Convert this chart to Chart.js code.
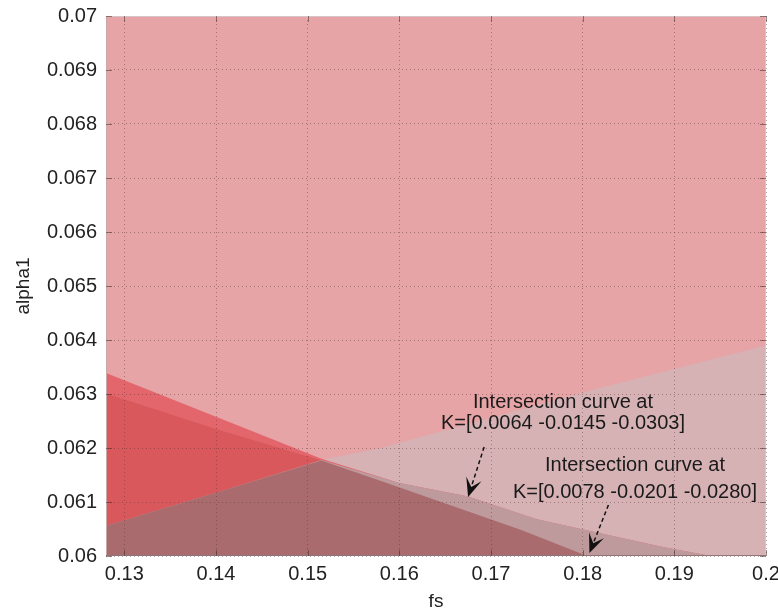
<!DOCTYPE html>
<html>
<head>
<meta charset="utf-8">
<script src="https://cdn.jsdelivr.net/npm/chart.js@4/dist/chart.umd.min.js"></script>
<style>
  html, body { margin: 0; padding: 0; background: #ffffff; }
  #wrap { width: 778px; height: 613px; position: relative; }
</style>
</head>
<body>
<div id="wrap"><canvas id="c" width="778" height="613"></canvas></div>
<script>
// ---- data ----
const xTicks = [0.13, 0.14, 0.15, 0.16, 0.17, 0.18, 0.19, 0.2];
const xTickLabels = ['0.13', '0.14', '0.15', '0.16', '0.17', '0.18', '0.19', '0.2'];
const yTicks = [0.06, 0.061, 0.062, 0.063, 0.064, 0.065, 0.066, 0.067, 0.068, 0.069, 0.07];
const yTickLabels = ['0.06', '0.061', '0.062', '0.063', '0.064', '0.065', '0.066', '0.067', '0.068', '0.069', '0.07'];

// rising surface edge
const fsRise = [0.128, 0.14, 0.1515, 0.158, 0.18, 0.2];
const alphaRise = [0.06056, 0.06117, 0.06178, 0.06200, 0.06303, 0.0639];

// intersection curve K=[0.0064 -0.0145 -0.0303]
const fsK1 = [0.128, 0.14, 0.1515, 0.160, 0.1675, 0.175, 0.1886, 0.194];
const alphaK1 = [0.06339, 0.06258, 0.06180, 0.06135, 0.06110, 0.06068, 0.06017, 0.0600];

// intersection curve K=[0.0078 -0.0201 -0.0280]
const fsK2 = [0.128, 0.14, 0.1515, 0.158, 0.1733, 0.1805];
const alphaK2 = [0.06301, 0.06235, 0.06177, 0.06139, 0.06048, 0.0600];

// upper edge of overlap of rising surface with K1 surface
const fsBand = [0.128, 0.14, 0.1515, 0.160, 0.1675, 0.175, 0.1886, 0.194];
const alphaBand = [0.06056, 0.06117, 0.06178, 0.06135, 0.06110, 0.06068, 0.06017, 0.0600];

// upper edge of overlap of rising surface with K2 surface
const fsOverlap = [0.128, 0.14, 0.1515, 0.158, 0.1733, 0.1805];
const alphaOverlap = [0.06056, 0.06117, 0.06177, 0.06139, 0.06048, 0.0600];

// annotations
const noteLines1 = ['Intersection curve at', 'K=[0.0064 -0.0145 -0.0303]'];
const notePos1 = { fs: 0.17785, alpha: [0.062852, 0.062463] };
const noteLines2 = ['Intersection curve at', 'K=[0.0078 -0.0201 -0.0280]'];
const notePos2 = { fs: 0.18571, alpha: [0.061667, 0.061185] };
const arrow1 = { from: [0.16925, 0.062019], to: [0.1675, 0.061093] };
const arrow2 = { from: [0.18281, 0.060944], to: [0.18074, 0.060056] };

const pts = (xs, ys) => xs.map((x, i) => ({ x: x, y: ys[i] }));

const bgPlugin = {
  id: 'plotBg',
  beforeDatasetsDraw(chart) {
    const a = chart.chartArea, ctx = chart.ctx;
    ctx.save();
    ctx.fillStyle = '#E6A4A7';
    ctx.fillRect(a.left, a.top, a.right - a.left, a.bottom - a.top);
    ctx.restore();
  }
};

const notePlugin = {
  id: 'notes',
  afterDraw(chart) {
    const ctx = chart.ctx, xs = chart.scales.x, ys = chart.scales.y, a = chart.chartArea;
    ctx.save();
    // plot box
    ctx.lineWidth = 1;
    ctx.strokeStyle = '#d8c4c5';
    ctx.beginPath();
    ctx.moveTo(a.left + 0.5, a.top + 0.5);
    ctx.lineTo(a.right - 0.5, a.top + 0.5);
    ctx.lineTo(a.right - 0.5, a.bottom);
    ctx.stroke();
    ctx.strokeStyle = '#c9a9aa';
    ctx.beginPath();
    ctx.moveTo(a.left + 0.5, a.top);
    ctx.lineTo(a.left + 0.5, a.bottom);
    ctx.stroke();
    ctx.strokeStyle = '#8f7778';
    ctx.beginPath();
    ctx.moveTo(a.left, a.bottom - 0.5);
    ctx.lineTo(a.right, a.bottom - 0.5);
    ctx.stroke();
    // small inward tick marks
    ctx.strokeStyle = 'rgba(70,45,45,0.55)';
    ctx.beginPath();
    yTicks.forEach(v => {
      const y = Math.round(ys.getPixelForValue(v)) + 0.5;
      ctx.moveTo(a.left, y); ctx.lineTo(a.left + 6, y);
      ctx.moveTo(a.right, y); ctx.lineTo(a.right - 6, y);
    });
    xTicks.forEach(v => {
      const x = Math.round(xs.getPixelForValue(v)) + 0.5;
      ctx.moveTo(x, a.bottom); ctx.lineTo(x, a.bottom - 6);
      ctx.moveTo(x, a.top); ctx.lineTo(x, a.top + 6);
    });
    ctx.stroke();

    ctx.fillStyle = '#1a1a1a';
    ctx.font = '20px "Liberation Sans", Arial, sans-serif';
    ctx.textAlign = 'center';
    ctx.textBaseline = 'middle';
    [[noteLines1, notePos1], [noteLines2, notePos2]].forEach(([lines, p]) => {
      lines.forEach((t, i) => {
        ctx.fillText(t, xs.getPixelForValue(p.fs), ys.getPixelForValue(p.alpha[i]));
      });
    });
    [arrow1, arrow2].forEach(ar => {
      const x0 = xs.getPixelForValue(ar.from[0]), y0 = ys.getPixelForValue(ar.from[1]);
      const x1 = xs.getPixelForValue(ar.to[0]), y1 = ys.getPixelForValue(ar.to[1]);
      const ang = Math.atan2(y1 - y0, x1 - x0);
      const hl = 19, hw = 8;
      const bx = x1 - hl * Math.cos(ang), by = y1 - hl * Math.sin(ang);
      ctx.strokeStyle = '#111';
      ctx.lineWidth = 1.5;
      ctx.setLineDash([4, 3]);
      ctx.beginPath();
      ctx.moveTo(x0, y0);
      ctx.lineTo(x1 - 0.5 * hl * Math.cos(ang), y1 - 0.5 * hl * Math.sin(ang));
      ctx.stroke();
      ctx.setLineDash([]);
      ctx.beginPath();
      ctx.moveTo(x1, y1);
      ctx.lineTo(bx + hw * Math.sin(ang), by - hw * Math.cos(ang));
      ctx.lineTo(x1 - 0.55 * hl * Math.cos(ang), y1 - 0.55 * hl * Math.sin(ang));
      ctx.lineTo(bx - hw * Math.sin(ang), by + hw * Math.cos(ang));
      ctx.closePath();
      ctx.fillStyle = '#111';
      ctx.fill();
    });
    ctx.restore();
  }
};

const surf = (label, xs, ys, color, order) => ({
  label: label,
  data: pts(xs, ys),
  showLine: true,
  pointRadius: 0,
  borderWidth: 0,
  borderColor: color,
  backgroundColor: color,
  fill: 'start',
  tension: 0,
  order: order
});

const fontFam = '"Liberation Sans", Arial, sans-serif';
const tickFont = { family: fontFam, size: 20 };
const gridStyle = {
  color: 'rgba(80,45,45,0.42)',
  lineWidth: 1,
  drawTicks: false,
  z: 1
};

new Chart(document.getElementById('c'), {
  type: 'scatter',
  data: {
    datasets: [
      surf('rise', fsRise, alphaRise, '#D6B2B5', 5),
      surf('K1', fsK1, alphaK1, '#E2666B', 4),
      surf('K2', fsK2, alphaK2, '#D9585C', 3),
      surf('band', fsBand, alphaBand, '#BF9A9D', 2),
      surf('overlap', fsOverlap, alphaOverlap, '#A96B6D', 1)
    ]
  },
  options: {
    responsive: false,
    animation: false,
    events: [],
    layout: { padding: { top: 16, right: 12, left: 0, bottom: 0 } },
    plugins: { legend: { display: false }, tooltip: { enabled: false } },
    scales: {
      x: {
        type: 'linear',
        min: 0.128,
        max: 0.2,
        afterBuildTicks: s => { s.ticks = xTicks.map(v => ({ value: v })); },
        afterFit: s => { s.height = 57; s.paddingLeft = 0; s.paddingRight = 0; },
        ticks: {
          font: tickFont, color: '#222', padding: 6, maxRotation: 0, autoSkip: false,
          callback: (v) => { const i = xTicks.findIndex(t => Math.abs(t - v) < 1e-9); return i >= 0 ? xTickLabels[i] : ''; }
        },
        grid: gridStyle,
        border: { display: false, dash: [1, 3] },
        title: { display: true, text: 'fs', color: '#222', font: { family: fontFam, size: 19 }, padding: { top: 0, bottom: 0 } }
      },
      y: {
        type: 'linear',
        min: 0.06,
        max: 0.07,
        afterBuildTicks: s => { s.ticks = yTicks.map(v => ({ value: v })); },
        afterFit: s => { s.width = 106; s.paddingTop = 0; s.paddingBottom = 0; },
        ticks: {
          font: tickFont, color: '#222', padding: 9, autoSkip: false,
          callback: (v) => { const i = yTicks.findIndex(t => Math.abs(t - v) < 1e-9); return i >= 0 ? yTickLabels[i] : ''; }
        },
        grid: gridStyle,
        border: { display: false, dash: [1, 3] },
        title: { display: true, text: 'alpha1', color: '#222', font: { family: fontFam, size: 19 }, padding: { top: 12, bottom: 0 } }
      }
    }
  },
  plugins: [bgPlugin, notePlugin]
});
</script>
</body>
</html>
